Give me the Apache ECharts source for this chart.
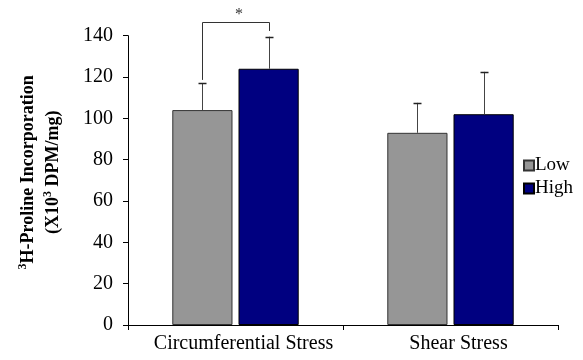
<!DOCTYPE html>
<html><head><meta charset="utf-8">
<script src="https://cdn.jsdelivr.net/npm/echarts@6/dist/echarts.min.js"></script>
<style>html,body{margin:0;padding:0;background:#fff}#c{width:583px;height:360px}</style>
</head><body><div id="c"></div>
<script>
const categories = ['Circumferential Stress', 'Shear Stress'];
const lowValues = [104, 93];
const highValues = [124, 102];
const lowErrors = [13, 14.5];
const highErrors = [15.5, 20.5];
const yTicks = [0, 20, 40, 60, 80, 100, 120, 140];
// significance bracket: [category, left bottom, top, right bottom, star]
const bracket = [[0, 118.6, 146.8, 142.3, 152]];

const FONT = 'Liberation Serif';
const BAR_W = 0.28, GAP = 0.1;

const errData = [];
lowValues.forEach((v, i) => errData.push([i, v, lowErrors[i], -1]));
highValues.forEach((v, i) => errData.push([i, v, highErrors[i], 1]));

const chart = echarts.init(document.getElementById('c'));
chart.setOption({
  animation: false,
  textStyle: { fontFamily: FONT },
  grid: { left: 128, right: 25, top: 35.7, bottom: 35 },
  legend: {
    data: ['Low', 'High'], orient: 'vertical', left: 518, top: 151,
    itemWidth: 10, itemHeight: 10, itemGap: 4, icon: 'rect',
    textStyle: { fontFamily: FONT, fontSize: 19, color: '#000', padding: [0,0,0,-4] }
  },
  xAxis: {
    type: 'category', data: categories,
    axisLine: { lineStyle: { color: '#000', width: 1 } },
    axisTick: { show: true, length: 5, lineStyle: { color: '#000' } },
    axisLabel: { color: '#000', fontSize: 20, fontFamily: FONT, margin: 9, padding: [0,0,0,16],
      interval: 0, hideOverlap: false }
  },
  yAxis: {
    type: 'value', min: 0, max: 140, interval: 20,
    splitLine: { show: false },
    axisLine: { show: true, lineStyle: { color: '#000', width: 1 } },
    axisTick: { show: true, length: 5, lineStyle: { color: '#000' } },
    axisLabel: { color: '#000', fontSize: 20, fontFamily: FONT, margin: 15,
      formatter: v => yTicks.includes(v) ? String(v) : '' },
    name: '{s|3}{b|H-Proline Incorporation}\n{b|(X10}{s|3}{b| DPM/mg)}',
    nameLocation: 'middle', nameRotate: 90, nameGap: 62,
    nameTextStyle: {
      align: 'center', padding: [0, 0, 0, 16],
      rich: {
        b: { fontFamily: FONT, fontWeight: 'bold', fontSize: 18, color: '#000', lineHeight: 25 },
        s: { fontFamily: FONT, fontWeight: 'bold', fontSize: 12, color: '#000', lineHeight: 25, padding: [0,0,11,0] }
      }
    }
  },
  series: [
    { name: 'Low', type: 'bar', data: lowValues, barWidth: (BAR_W*100)+'%', barGap: (GAP*100)+'%',
      itemStyle: { color: '#969696', borderColor: '#333', borderWidth: 1 } },
    { name: 'High', type: 'bar', data: highValues, barWidth: (BAR_W*100)+'%', barGap: (GAP*100)+'%',
      itemStyle: { color: '#000080', borderColor: '#000', borderWidth: 1 } },
    { type: 'custom', data: errData, clip: false, z: 5,
      renderItem: (params, api) => {
        const cat = api.value(0), mean = api.value(1), err = api.value(2), side = api.value(3);
        const band = api.size([1, 0])[0];
        const bw = band * BAR_W;
        const off = side * bw * (1 + GAP) / 2;
        const p0 = api.coord([cat, mean]);
        const p1 = api.coord([cat, mean + err]);
        const x = Math.round(p0[0] + off) + 0.5;
        const st = { stroke: '#444', lineWidth: 1 };
        return { type: 'group', children: [
          { type: 'line', shape: { x1: x, y1: p0[1], x2: x, y2: p1[1] }, style: st },
          { type: 'line', shape: { x1: x - 4, y1: Math.round(p1[1]) + 0.5, x2: x + 4, y2: Math.round(p1[1]) + 0.5 }, style: { stroke: '#222', lineWidth: 1.5 } }
        ]};
      } },
    { type: 'custom', data: bracket, clip: false, z: 5,
      renderItem: (params, api) => {
        const cat = api.value(0);
        const band = api.size([1, 0])[0];
        const off = band * BAR_W * (1 + GAP) / 2;
        const c = api.coord([cat, 0])[0];
        const xl = Math.round(c - off) + 0.5, xr = Math.round(c + off) + 0.5;
        const yl = api.coord([cat, api.value(1)])[1];
        const yt = Math.round(api.coord([cat, api.value(2)])[1]) + 0.5;
        const yr = api.coord([cat, api.value(3)])[1];
        const ys = api.coord([cat, api.value(4)])[1];
        return { type: 'group', children: [
          { type: 'polyline', shape: { points: [[xl, yl], [xl, yt], [xr, yt], [xr, yr]] }, style: { stroke: '#333', lineWidth: 1, fill: null } },
          { type: 'text', style: { text: '*', x: (xl + xr) / 2 + 3, y: ys + 4, align: 'center', verticalAlign: 'middle', font: '16px "Liberation Serif"', fill: '#333' } }
        ]};
      } }
  ]
});
</script></body></html>
